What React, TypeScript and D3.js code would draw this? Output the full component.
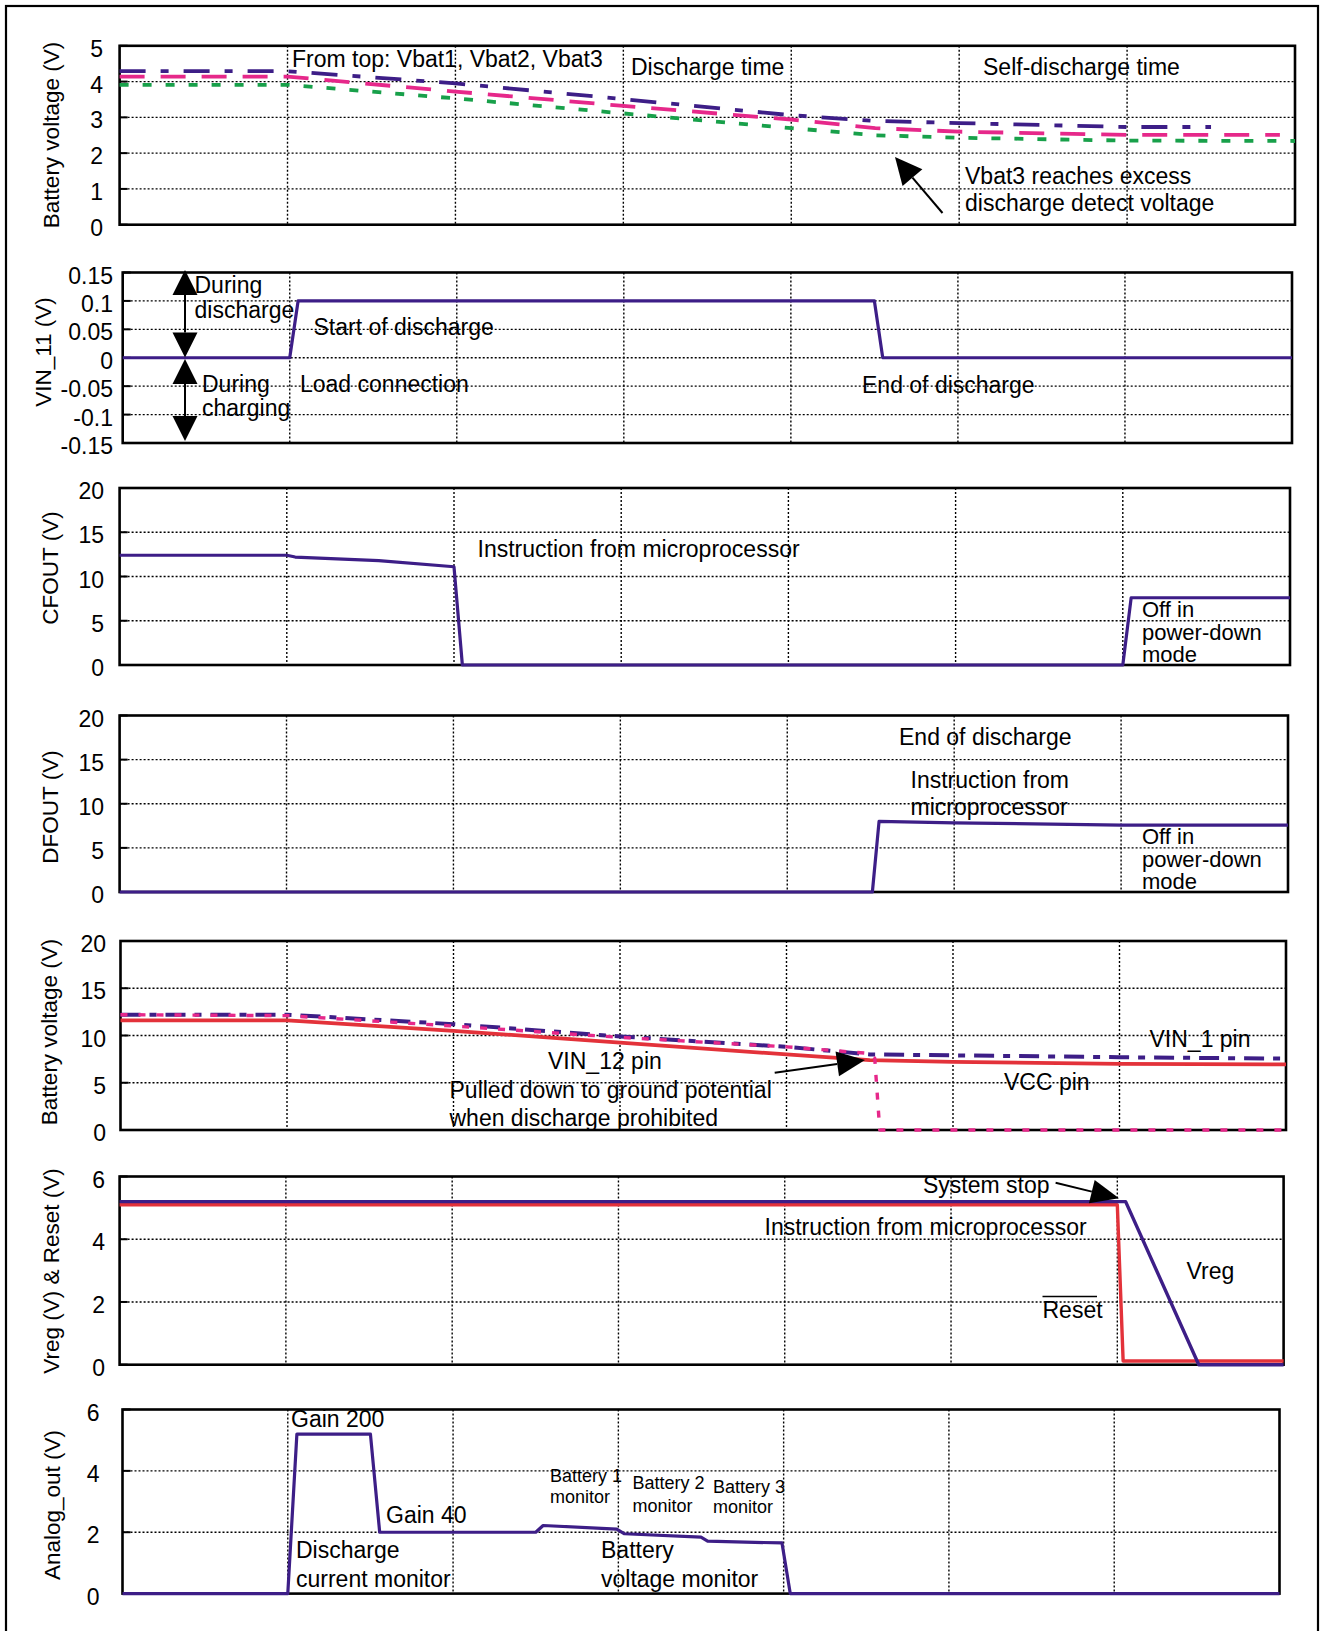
import React from "react";
import * as d3 from "d3";

const FONT = "'Liberation Sans', Arial, Helvetica, sans-serif";
const PURPLE = "#3d1e87";
const PINK = "#e6288a";
const GREEN = "#18a04a";
const RED = "#e3323a";

// ---------- data (time axis in grid units 0..7) ----------
const gridTimes = [1, 2, 3, 4, 5, 6];

// Panel 1: cell voltages
const vbat1T = [0, 1, 2, 3, 4, 4.5, 5, 6, 6.5];
const vbat1V = [4.29, 4.29, 3.95, 3.51, 3.06, 2.9, 2.84, 2.73, 2.73];
const vbat2T = [0, 1, 2, 3, 4, 4.5, 5, 6, 6.91];
const vbat2V = [4.14, 4.14, 3.72, 3.32, 2.94, 2.7, 2.6, 2.51, 2.51];
const vbat3T = [0, 1, 2, 3, 4, 4.5, 5, 6, 7];
const vbat3V = [3.91, 3.91, 3.53, 3.11, 2.7, 2.5, 2.43, 2.35, 2.34];

// Panel 2: VIN_11
const vin11T = [0, 1, 1.05, 4.5, 4.55, 7];
const vin11V = [0, 0, 0.1, 0.1, 0, 0];

// Panel 3: CFOUT
const cfoutT = [0, 1, 1.05, 1.55, 2, 2.05, 6, 6.05, 7];
const cfoutV = [12.4, 12.4, 12.2, 11.8, 11.1, 0, 0, 7.6, 7.6];

// Panel 4: DFOUT
const dfoutT = [0, 4.51, 4.55, 5, 6, 7];
const dfoutV = [0, 0, 8.0, 7.84, 7.58, 7.58];

// Panel 5: pack voltages
const vin1T = [0, 1, 2, 3, 4, 4.5, 5, 6, 7];
const vin1V = [12.2, 12.2, 11.2, 9.9, 8.8, 8.0, 7.9, 7.7, 7.55];
const vin12T = [0, 1, 2, 3, 4, 4.5, 4.53, 4.56, 7];
const vin12V = [12.2, 12.1, 11.0, 9.8, 8.8, 8.1, 7.6, 0, 0];
const vccT = [0, 1, 1.1, 2, 3, 4, 4.5, 5, 6, 7];
const vccV = [11.6, 11.6, 11.5, 10.5, 9.25, 8.0, 7.4, 7.2, 7.0, 6.95];

// Panel 6: Vreg & Reset
const vregT = [0, 6.05, 6.49, 7];
const vregV = [5.2, 5.2, 0, 0];
const resetT = [0, 6.0, 6.035, 7];
const resetV = [5.1, 5.1, 0.12, 0.12];

// Panel 7: Analog_out
const aoutT = [0, 1, 1.055, 1.5, 1.556, 2.5, 2.545, 2.99, 3.037, 3.5, 3.54, 3.99, 4.04, 7];
const aoutV = [0, 0, 5.2, 5.2, 2.0, 2.0, 2.22, 2.1, 1.95, 1.84, 1.71, 1.65, 0, 0];

// tick values
const ticks5 = [0, 1, 2, 3, 4, 5];
const ticksVin = [-0.15, -0.1, -0.05, 0, 0.05, 0.1, 0.15];
const ticks20 = [0, 5, 10, 15, 20];
const ticks6 = [0, 2, 4, 6];

// ---------- layout ----------
type Layout = {
  left: number; right: number; top: number; bottom: number;
  domain: [number, number]; ticks: number[];
  labelRight: number; title: string; titleX: number; titleY: number;
};

const L1: Layout = { left: 119.6, right: 1295, top: 45.8, bottom: 224.7, domain: [0, 5], ticks: ticks5, labelRight: 103, title: "Battery voltage (V)", titleX: 59, titleY: 135 };
const L2: Layout = { left: 122.7, right: 1292, top: 272.5, bottom: 443, domain: [-0.15, 0.15], ticks: ticksVin, labelRight: 113, title: "VIN_11 (V)", titleX: 50.5, titleY: 352 };
const L3: Layout = { left: 119.6, right: 1290, top: 488, bottom: 665, domain: [0, 20], ticks: ticks20, labelRight: 104, title: "CFOUT (V)", titleX: 57.5, titleY: 568 };
const L4: Layout = { left: 119.6, right: 1288, top: 715.5, bottom: 892, domain: [0, 20], ticks: ticks20, labelRight: 104, title: "DFOUT (V)", titleX: 57.5, titleY: 807 };
const L5: Layout = { left: 120.5, right: 1286, top: 941, bottom: 1130, domain: [0, 20], ticks: ticks20, labelRight: 106, title: "Battery voltage (V)", titleX: 56.5, titleY: 1032 };
const L6: Layout = { left: 119.6, right: 1283.6, top: 1176.5, bottom: 1364.7, domain: [0, 6], ticks: ticks6, labelRight: 105, title: "Vreg (V) & Reset (V)", titleX: 58.5, titleY: 1271 };
const L7: Layout = { left: 122.5, right: 1279.5, top: 1409.5, bottom: 1593.6, domain: [0, 6], ticks: ticks6, labelRight: 99.5, title: "Analog_out (V)", titleX: 60, titleY: 1505 };

type Series = { t: number[]; v: number[]; color: string; width: number; dash?: string };
type Note = { text: string; x: number; y: number; size?: number };

const ANN = 23;
const STACK = 22;
const SMALL = 18;

function Panel({ L, series, notes }: { L: Layout; series: Series[]; notes: Note[] }) {
  const x = d3.scaleLinear().domain([0, 7]).range([L.left, L.right]);
  const y = d3.scaleLinear().domain(L.domain).range([L.bottom, L.top]);
  const inner = L.ticks.filter((v) => v !== L.domain[0] && v !== L.domain[1]);
  return (
    <g>
      {gridTimes.map((t) => (
        <line key={"gv" + t} x1={x(t)} x2={x(t)} y1={L.top} y2={L.bottom} stroke="#000" strokeWidth={1.4} strokeDasharray="2,2" />
      ))}
      {inner.map((v) => (
        <line key={"gh" + v} x1={L.left} x2={L.right} y1={y(v)} y2={y(v)} stroke="#000" strokeWidth={1.4} strokeDasharray="2,2" />
      ))}
      {L.ticks.map((v) => (
        <line key={"tk" + v} x1={L.left} x2={L.left + 8} y1={y(v)} y2={y(v)} stroke="#000" strokeWidth={2} />
      ))}
      {L.ticks.map((v) => (
        <text key={"tl" + v} x={L.labelRight} y={y(v) + 11} textAnchor="end" fontSize={23} fontFamily={FONT} fill="#000">
          {String(v)}
        </text>
      ))}
      <text
        transform={`translate(${L.titleX},${L.titleY}) rotate(-90)`}
        textAnchor="middle"
        fontSize={22.5}
        fontFamily={FONT}
        fill="#000"
      >
        {L.title}
      </text>
      <rect x={L.left} y={L.top} width={L.right - L.left} height={L.bottom - L.top} fill="none" stroke="#000" strokeWidth={2.6} />
      {notes.map((n, i) => (
        <text key={"n" + i} x={n.x} y={n.y} fontSize={n.size ?? ANN} fontFamily={FONT} fill="#000">
          {n.text}
        </text>
      ))}
      {series.map((s, i) => {
        const pts: [number, number][] = s.t.map((t, k) => [t, s.v[k]]);
        const path = d3
          .line<[number, number]>()
          .x((d) => x(d[0]))
          .y((d) => y(d[1]))(pts);
        return (
          <path
            key={"s" + i}
            d={path ?? ""}
            fill="none"
            stroke={s.color}
            strokeWidth={s.width}
            strokeDasharray={s.dash}
            strokeLinejoin="round"
          />
        );
      })}
    </g>
  );
}

function Arrow({ x1, y1, x2, y2, len, w, both }: { x1: number; y1: number; x2: number; y2: number; len: number; w: number; both?: boolean }) {
  const dx = x2 - x1;
  const dy = y2 - y1;
  const d = Math.hypot(dx, dy);
  const ux = dx / d;
  const uy = dy / d;
  const nx = -uy;
  const ny = ux;
  const head = (tx: number, ty: number, sx: number, sy: number) => {
    const bx = tx - sx * len;
    const by = ty - sy * len;
    return `${tx},${ty} ${bx + (nx * w) / 2},${by + (ny * w) / 2} ${bx - (nx * w) / 2},${by - (ny * w) / 2}`;
  };
  const sx = both ? x1 + ux * len : x1;
  const sy = both ? y1 + uy * len : y1;
  return (
    <g>
      <line x1={sx} y1={sy} x2={x2 - ux * len} y2={y2 - uy * len} stroke="#000" strokeWidth={2} />
      <polygon points={head(x2, y2, ux, uy)} fill="#000" />
      {both && <polygon points={head(x1, y1, -ux, -uy)} fill="#000" />}
    </g>
  );
}

export default function App() {
  return (
    <svg
      width={1323}
      height={1631}
      viewBox="0 0 1323 1631"
      style={{ position: "absolute", left: 0, top: 0, background: "#fff" }}
    >
      <rect x={0} y={0} width={1323} height={1631} fill="#fff" />
      <rect x={6} y={6} width={1312} height={1700} fill="none" stroke="#000" strokeWidth={2.2} />

      {/* Panel 1 */}
      <Panel
        L={L1}
        series={[
          { t: vbat3T, v: vbat3V, color: GREEN, width: 3.8, dash: "9,14" },
          { t: vbat2T, v: vbat2V, color: PINK, width: 3.8, dash: "25,16" },
          { t: vbat1T, v: vbat1V, color: PURPLE, width: 3.8, dash: "26,15,8,15" },
        ]}
        notes={[
          { text: "From top: Vbat1, Vbat2, Vbat3", x: 292, y: 66.5 },
          { text: "Discharge time", x: 631, y: 75 },
          { text: "Self-discharge time", x: 983, y: 75 },
          { text: "Vbat3 reaches excess", x: 965, y: 184 },
          { text: "discharge detect voltage", x: 965, y: 211 },
        ]}
      />
      <Arrow x1={942.5} y1={213} x2={895} y2={157} len={27} w={26} />

      {/* Panel 2 */}
      <Panel
        L={L2}
        series={[{ t: vin11T, v: vin11V, color: PURPLE, width: 3.2 }]}
        notes={[
          { text: "During", x: 194.5, y: 293 },
          { text: "discharge", x: 194.5, y: 318 },
          { text: "Start of discharge", x: 313.5, y: 335 },
          { text: "During", x: 202, y: 392 },
          { text: "charging", x: 202, y: 416 },
          { text: "Load connection", x: 300, y: 391.5 },
          { text: "End of discharge", x: 862, y: 393 },
        ]}
      />
      <Arrow x1={185} y1={270} x2={185} y2={357.5} len={25} w={25} both />
      <Arrow x1={185} y1={359} x2={185} y2={441} len={25} w={25} both />

      {/* Panel 3 */}
      <Panel
        L={L3}
        series={[{ t: cfoutT, v: cfoutV, color: PURPLE, width: 3.2 }]}
        notes={[
          { text: "Instruction from microprocessor", x: 477.5, y: 556.5 },
          { text: "Off in", x: 1142, y: 616.5, size: STACK },
          { text: "power-down", x: 1142, y: 640, size: STACK },
          { text: "mode", x: 1142, y: 662, size: STACK },
        ]}
      />

      {/* Panel 4 */}
      <Panel
        L={L4}
        series={[{ t: dfoutT, v: dfoutV, color: PURPLE, width: 3.2 }]}
        notes={[
          { text: "End of discharge", x: 899, y: 745 },
          { text: "Instruction from", x: 910.5, y: 788 },
          { text: "microprocessor", x: 910.5, y: 815 },
          { text: "Off in", x: 1142, y: 844, size: STACK },
          { text: "power-down", x: 1142, y: 866.5, size: STACK },
          { text: "mode", x: 1142, y: 889, size: STACK },
        ]}
      />

      {/* Panel 5 */}
      <Panel
        L={L5}
        series={[
          { t: vccT, v: vccV, color: RED, width: 3.8 },
          { t: vin1T, v: vin1V, color: PURPLE, width: 4, dash: "20,9,7,9" },
          { t: vin12T, v: vin12V, color: PINK, width: 3.4, dash: "7,11" },
        ]}
        notes={[
          { text: "VIN_1 pin", x: 1149.5, y: 1046.5 },
          { text: "VIN_12 pin", x: 548, y: 1069 },
          { text: "Pulled down to ground potential", x: 449.5, y: 1097.5 },
          { text: "when discharge prohibited", x: 449.5, y: 1125.5 },
          { text: "VCC pin", x: 1004, y: 1090 },
        ]}
      />
      <Arrow x1={774.7} y1={1072.7} x2={865} y2={1060} len={28} w={25} />

      {/* Panel 6 */}
      <Panel
        L={L6}
        series={[
          { t: resetT, v: resetV, color: RED, width: 3.4 },
          { t: vregT, v: vregV, color: PURPLE, width: 3.4 },
        ]}
        notes={[
          { text: "System stop", x: 923, y: 1193 },
          { text: "Instruction from microprocessor", x: 764.5, y: 1235 },
          { text: "Vreg", x: 1186.5, y: 1279 },
          { text: "Reset", x: 1042.5, y: 1318 },
        ]}
      />
      <line x1={1042.5} x2={1097} y1={1296.5} y2={1296.5} stroke="#000" strokeWidth={1.6} />
      <Arrow x1={1055.6} y1={1182.7} x2={1119} y2={1198.3} len={28} w={24} />

      {/* Panel 7 */}
      <Panel
        L={L7}
        series={[{ t: aoutT, v: aoutV, color: PURPLE, width: 3.2 }]}
        notes={[
          { text: "Gain 200", x: 291, y: 1427 },
          { text: "Gain 40", x: 386, y: 1523 },
          { text: "Battery 1", x: 550, y: 1481.5, size: SMALL },
          { text: "monitor", x: 550, y: 1503, size: SMALL },
          { text: "Battery 2", x: 632.5, y: 1489, size: SMALL },
          { text: "monitor", x: 632.5, y: 1511.5, size: SMALL },
          { text: "Battery 3", x: 713, y: 1493, size: SMALL },
          { text: "monitor", x: 713, y: 1513, size: SMALL },
          { text: "Discharge", x: 296, y: 1558 },
          { text: "current monitor", x: 296, y: 1586.5 },
          { text: "Battery", x: 601, y: 1558 },
          { text: "voltage monitor", x: 601, y: 1586.5 },
        ]}
      />
    </svg>
  );
}
